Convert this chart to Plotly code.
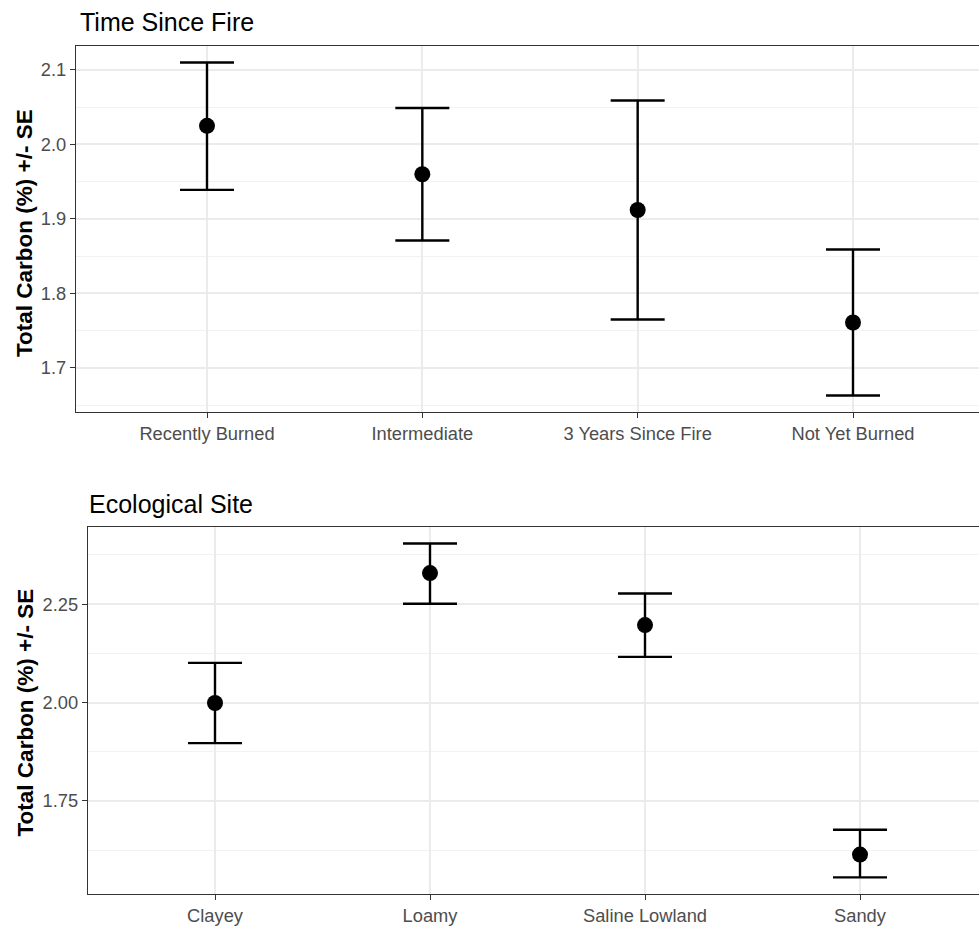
import plotly.graph_objects as go

# ---- data ----
fire_categories = ["Recently Burned", "Intermediate", "3 Years Since Fire", "Not Yet Burned"]
fire_mean = [2.025, 1.960, 1.912, 1.761]
fire_upper = [2.110, 2.049, 2.059, 1.859]
fire_lower = [1.939, 1.871, 1.765, 1.663]

site_categories = ["Clayey", "Loamy", "Saline Lowland", "Sandy"]
site_mean = [1.999, 2.329, 2.197, 1.614]
site_upper = [2.101, 2.404, 2.277, 1.677]
site_lower = [1.897, 2.251, 2.116, 1.556]

fire_yticks = [1.7, 1.8, 1.9, 2.0, 2.1]
fire_yticklabels = ["1.7", "1.8", "1.9", "2.0", "2.1"]
site_yticks = [1.75, 2.00, 2.25]
site_yticklabels = ["1.75", "2.00", "2.25"]

W, H = 979, 926
FONT = "Arial, Liberation Sans, sans-serif"

fig = go.Figure()

def add_panel(cats, mean, up, lo, xa, ya):
    fig.add_trace(go.Scatter(
        x=cats, y=mean, mode="markers",
        xaxis=xa, yaxis=ya,
        marker=dict(color="black", size=16, symbol="circle"),
        error_y=dict(type="data", symmetric=False,
                     array=[u - m for u, m in zip(up, mean)],
                     arrayminus=[m - l for m, l in zip(mean, lo)],
                     color="black", thickness=2.4, width=27),
        showlegend=False, cliponaxis=False,
    ))

add_panel(fire_categories, fire_mean, fire_upper, fire_lower, "x", "y")
add_panel(site_categories, site_mean, site_upper, site_lower, "x2", "y2")

def yrange(up, lo):
    mx, mn = max(up), min(lo)
    span = mx - mn
    return [mn - 0.05 * span, mx + 0.05 * span]

grid_major = "#EBEBEB"
border = "#333333"
tick_font = dict(family=FONT, size=18.3, color="#4D4D4D")

common_x = dict(type="category", showline=True, linecolor=border, linewidth=1.3,
                mirror=True, showgrid=True, gridcolor=grid_major, gridwidth=1.6,
                ticks="outside", ticklen=5, tickcolor=border, tickwidth=1.2,
                tickfont=tick_font, zeroline=False, fixedrange=True)
common_y = dict(showline=True, linecolor=border, linewidth=1.3, mirror=False,
                showgrid=True, gridcolor=grid_major, gridwidth=1.6,
                ticks="outside", ticklen=5, tickcolor=border, tickwidth=1.2,
                tickfont=tick_font, zeroline=False, fixedrange=True)

top_l, top_t, top_b = 76, 46, 413
bot_l, bot_t, bot_b = 88, 528, 896

u1 = (853 - 207) / 3
x1r = [(top_l - 207) / u1, (W - 207) / u1]
u2 = (860 - 215) / 3
x2r = [(bot_l - 215) / u2, (W - 215) / u2]

fig.update_layout(
    width=W, height=H,
    margin=dict(l=0, r=0, t=0, b=0),
    paper_bgcolor="white", plot_bgcolor="white",
    xaxis=dict(common_x, domain=[top_l / W, 1], range=x1r,
               categoryorder="array", categoryarray=fire_categories, anchor="y"),
    yaxis=dict(common_y, domain=[(H - top_b) / H, (H - top_t) / H], range=yrange(fire_upper, fire_lower),
               tickvals=fire_yticks, ticktext=fire_yticklabels, anchor="x",
               minor=dict(dtick=0.05, tick0=1.7, showgrid=True, gridcolor="#F2F2F2", gridwidth=1, ticks="")),
    xaxis2=dict(common_x, domain=[bot_l / W, 1], range=x2r,
                categoryorder="array", categoryarray=site_categories, anchor="y2"),
    yaxis2=dict(common_y, domain=[(H - bot_b) / H, (H - bot_t) / H], range=yrange(site_upper, site_lower),
                tickvals=site_yticks, ticktext=site_yticklabels, anchor="x2",
                minor=dict(dtick=0.125, tick0=1.5, showgrid=True, gridcolor="#F2F2F2", gridwidth=1, ticks="")),
)

annots = [
    dict(text="Time Since Fire", x=78 / W, y=1 - 22 / H, xanchor="left", yanchor="middle",
         font=dict(family=FONT, size=25, color="black")),
    dict(text="Ecological Site", x=87 / W, y=1 - 505 / H, xanchor="left", yanchor="middle",
         font=dict(family=FONT, size=25, color="black")),
    dict(text="<b>Total Carbon (%) +/- SE</b>", x=25 / W, y=1 - ((top_t + top_b) / 2 + 4) / H,
         xanchor="center", yanchor="middle", textangle=-90,
         font=dict(family=FONT, size=22.5, color="black")),
    dict(text="<b>Total Carbon (%) +/- SE</b>", x=25 / W, y=1 - ((bot_t + bot_b) / 2 + 2) / H,
         xanchor="center", yanchor="middle", textangle=-90,
         font=dict(family=FONT, size=22.5, color="black")),
]
for a in annots:
    a.update(xref="paper", yref="paper", showarrow=False)
fig.update_layout(annotations=annots)

fig.write_html("out.html")
